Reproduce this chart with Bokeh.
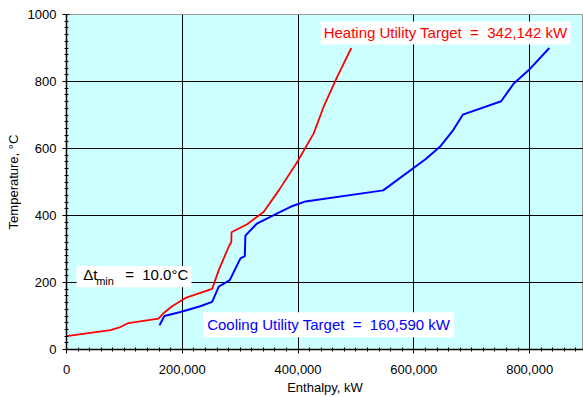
from bokeh.plotting import figure
from bokeh.models import (Label, BoxAnnotation, NumeralTickFormatter, FixedTicker,
                          Range1d)
from bokeh.embed import file_html
from bokeh.resources import INLINE

# Hot composite curve (enthalpy kW, temperature C)
hot_h = [0, 76000, 93000, 107000, 159000, 168000, 182500, 207000, 251600, 263000,
         280000, 284700, 285000, 312000, 340800, 366700, 398000, 427000, 444000,
         467500, 492000]
hot_t = [40, 58, 67, 79, 92, 109, 129, 155, 181, 237, 306, 321, 350, 374, 411,
         475, 558, 645, 724, 814, 900]

# Cold composite curve
cold_h = [160590, 169000, 197000, 231000, 251600, 263000, 282000, 292000, 300500,
          308000, 309000, 329000, 358000, 387000, 412800, 547000, 620000, 646000,
          668000, 684500, 750800, 772600, 798500, 834000]
cold_t = [72, 100, 112, 129, 142, 188, 207, 242, 272, 279, 340, 376, 401, 426,
          442, 475, 568, 607, 655, 701, 741, 794, 834, 900]

x_ticks = [0, 200000, 400000, 600000, 800000]
y_ticks = [0, 200, 400, 600, 800, 1000]

NB = "\u00a0"
heating_text = f"Heating Utility Target {NB}={NB} 342,142 kW"
cooling_text = f"Cooling Utility Target {NB}={NB} 160,590 kW"
dt_text = f"={NB} 10.0°C"

FONT = "Liberation Sans"

p = figure(width=583, height=397, output_backend="svg", toolbar_location=None,
           x_range=Range1d(0, 893000), y_range=Range1d(0, 1000),
           min_border_left=66, min_border_right=0, min_border_top=14,
           min_border_bottom=48)

p.background_fill_color = "#CCFFFF"
p.border_fill_color = "white"
p.outline_line_color = "#999999"

p.xaxis.ticker = FixedTicker(ticks=x_ticks,
                             minor_ticks=list(range(0, 900001, 20000)))
p.yaxis.ticker = FixedTicker(ticks=y_ticks, minor_ticks=list(range(0, 1001, 20)))
p.xaxis.formatter = NumeralTickFormatter(format="0,0")

for ax in (p.xaxis[0], p.yaxis[0]):
    ax.axis_line_color = "black"
    ax.axis_line_width = 1.5
    ax.major_tick_line_color = "black"
    ax.minor_tick_line_color = "black"
    ax.major_tick_in = 3
    ax.major_tick_out = 4
    ax.minor_tick_in = 2
    ax.minor_tick_out = 2
    ax.major_label_text_font = FONT
    ax.major_label_text_font_size = "13px"
    ax.major_label_text_color = "black"
    ax.axis_label_text_font = FONT
    ax.axis_label_text_font_size = "13px"
    ax.axis_label_text_font_style = "normal"
    ax.axis_label_text_color = "black"

p.xaxis.axis_label = "Enthalpy, kW"
p.yaxis.axis_label = "Temperature, °C"
p.xaxis.major_label_standoff = 11
p.xaxis.axis_label_standoff = 3
p.yaxis.major_label_standoff = 6
p.yaxis.axis_label_standoff = 4

p.xgrid.ticker = FixedTicker(ticks=x_ticks)
p.ygrid.ticker = FixedTicker(ticks=y_ticks)
p.grid.grid_line_color = "black"
p.grid.grid_line_width = 1

p.line(hot_h, hot_t, line_color="#FF0000", line_width=1.8)
p.line(cold_h, cold_t, line_color="#0000FF", line_width=2)

p.add_layout(Label(x=439000, y=945, text=heating_text, text_color="#FF0000",
                   text_font=FONT, text_font_size="15px", text_baseline="middle",
                   background_fill_color="white", padding=3))
p.add_layout(Label(x=236000, y=74, text=cooling_text, text_color="#0000FF",
                   text_font=FONT, text_font_size="15px", text_baseline="middle",
                   background_fill_color="white", padding=4))

p.add_layout(BoxAnnotation(left=17300, right=215900, bottom=186, top=249,
                           fill_color="white", fill_alpha=1, line_color=None))
p.add_layout(Label(x=28800, y=224, text="Δt", text_color="black",
                   text_font=FONT, text_font_size="15px", text_baseline="middle"))
p.add_layout(Label(x=28800, y=224, x_offset=13, y_offset=-7, text="min",
                   text_color="black", text_font=FONT, text_font_size="11px",
                   text_baseline="middle"))
p.add_layout(Label(x=28800, y=224, x_offset=42, text=dt_text,
                   text_color="black", text_font=FONT, text_font_size="15px",
                   text_baseline="middle"))

open("out.html", "w").write(file_html(p, INLINE))
